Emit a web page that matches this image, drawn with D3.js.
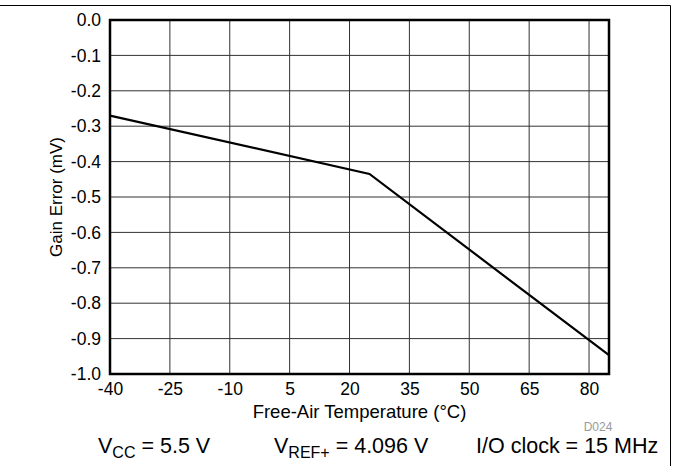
<!DOCTYPE html>
<html><head><meta charset="utf-8">
<script src="https://cdn.jsdelivr.net/npm/d3@7"></script>
<style>body{margin:0;background:#fff}svg{display:block;font-family:"Liberation Sans",Arial,sans-serif}</style>
</head><body>
<script>
const temps = [-40, 25, 85];
const gainError = [-0.27, -0.435, -0.947];
const xTicks = [-40, -25, -10, 5, 20, 35, 50, 65, 80];
const yTicks = [0, -0.1, -0.2, -0.3, -0.4, -0.5, -0.6, -0.7, -0.8, -0.9, -1.0];

const W = 673, H = 466;
const m = {l:110, r:609, t:20, b:374};
const svg = d3.select("body").append("svg").attr("width", W).attr("height", H);

const x = d3.scaleLinear().domain([-40, 85]).range([m.l, m.r]);
const y = d3.scaleLinear().domain([-1, 0]).range([m.b, m.t]);

// frame lines
svg.append("line").attr("x1",0).attr("x2",670.5).attr("y1",5.5).attr("y2",5.5).attr("stroke","#000").attr("stroke-width",1);
svg.append("line").attr("x1",670.5).attr("x2",670.5).attr("y1",5.5).attr("y2",H).attr("stroke","#000").attr("stroke-width",1);

// grid
const g = svg.append("g");
g.selectAll(".vg").data(xTicks).join("line")
  .attr("x1", d=>x(d)).attr("x2", d=>x(d)).attr("y1", m.t).attr("y2", m.b)
  .attr("stroke","#333").attr("stroke-width",1);
g.selectAll(".hg").data(yTicks).join("line")
  .attr("x1", m.l).attr("x2", m.r).attr("y1", d=>y(d)).attr("y2", d=>y(d))
  .attr("stroke","#333").attr("stroke-width",1);

// axes
const xAxis = svg.append("g").attr("transform",`translate(0,${m.b})`)
  .call(d3.axisBottom(x).tickValues(xTicks).tickSize(0).tickPadding(9).tickFormat(d=>String(d)));
const yAxis = svg.append("g").attr("transform",`translate(${m.l},0)`)
  .call(d3.axisLeft(y).tickValues(yTicks).tickSize(0).tickPadding(9).tickFormat(d=>d.toFixed(1)));
[xAxis,yAxis].forEach(a=>{a.select(".domain").remove();a.selectAll("text").attr("font-size",17.5).attr("fill","#000").attr("font-family","Liberation Sans, Arial, sans-serif");});

// plot border
svg.append("rect").attr("x",m.l).attr("y",m.t).attr("width",m.r-m.l).attr("height",m.b-m.t)
  .attr("fill","none").attr("stroke","#000").attr("stroke-width",2.5);

// data line
const pts = temps.map((t,i)=>[t, gainError[i]]);
svg.append("path").datum(pts)
  .attr("d", d3.line().x(d=>x(d[0])).y(d=>y(d[1])))
  .attr("fill","none").attr("stroke","#000").attr("stroke-width",2.2).attr("stroke-linejoin","miter");

// axis titles
svg.append("text").attr("x",(m.l+m.r)/2).attr("y",418).attr("text-anchor","middle")
  .attr("font-size",18.5).text("Free-Air Temperature (°C)");
svg.append("text").attr("transform",`translate(62,${(m.t+m.b)/2}) rotate(-90)`).attr("text-anchor","middle")
  .attr("font-size",17).text("Gain Error (mV)");

svg.append("text").attr("x",598).attr("y",431).attr("text-anchor","middle")
  .attr("font-size",12).attr("fill","#999").text("D024");

// bottom conditions
function cond(xp, main, sub, rest){
  const t = svg.append("text").attr("x",xp).attr("y",453).attr("font-size",21.5);
  t.append("tspan").text(main);
  if(sub){ t.append("tspan").attr("font-size",16).attr("dy",5).text(sub);
    t.append("tspan").attr("dy",-5).text(rest);} 
  else t.append("tspan").text(rest);
}
cond(98,"V","CC"," = 5.5 V");
cond(274,"V","REF+"," = 4.096 V");
cond(476,"I/O clock = 15 MHz","","");
</script>
</body></html>
